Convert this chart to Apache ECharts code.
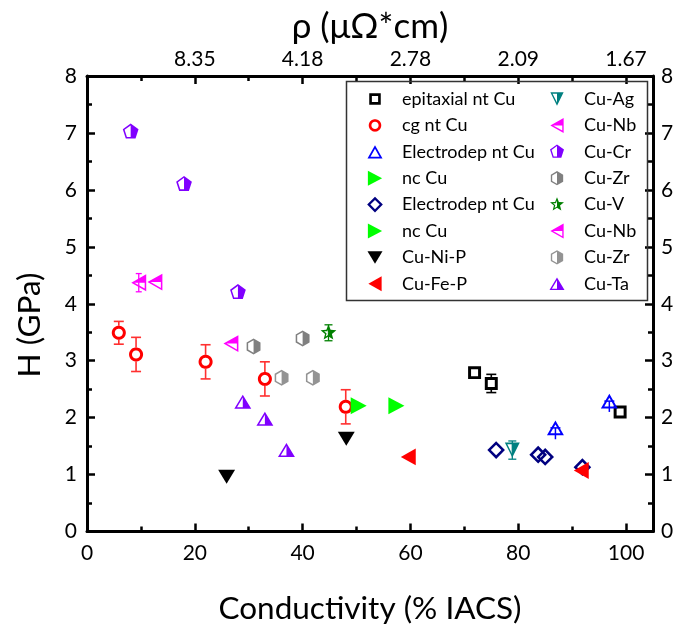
<!DOCTYPE html>
<html><head><meta charset="utf-8">
<script src="https://cdn.jsdelivr.net/npm/echarts@6.0.0/dist/echarts.min.js"></script>
<style>html,body{margin:0;padding:0;background:#fff}#chart{width:675px;height:627px}</style>
</head><body><div id="chart"></div>
<script>
// ---------------- data (conductivity %IACS, hardness GPa) ----------------
const epitaxialNtCu = [[71.9, 2.79], [75.0, 2.60], [98.9, 2.10]];
const epitaxialNtCuErrUp = [0, 0.16, 0];
const epitaxialNtCuErrDown = [0, 0.16, 0];
const cgNtCu = [[5.9, 3.49], [9.1, 3.11], [22.0, 2.98], [33.0, 2.68], [48.0, 2.19]];
const cgNtCuErrUp = [0.2, 0.3, 0.3, 0.3, 0.3];
const cgNtCuErrDown = [0.2, 0.3, 0.3, 0.3, 0.3];
const electrodepNtCuA = [[86.9, 1.82], [96.9, 2.29]];
const electrodepNtCuAErrUp = [0, 0];
const electrodepNtCuAErrDown = [0.2, 0.19];
const ncCuA = [[50.4, 2.21]];
const electrodepNtCuB = [[75.9, 1.43], [83.7, 1.35], [85.0, 1.31], [91.9, 1.13]];
const ncCuB = [[57.4, 2.21]];
const cuNiP = [[25.9, 0.96], [48.1, 1.63]];
const cuFeP = [[59.6, 1.31], [91.7, 1.07]];
const cuAg = [[78.9, 1.43]];
const cuAgErrUp = [0.16];
const cuAgErrDown = [0.16];
const cuNbA = [[9.6, 4.37], [12.6, 4.38]];
const cuNbAErrUp = [0.16, 0];
const cuNbAErrDown = [0.16, 0];
const cuCr = [[8.1, 7.02], [18.0, 6.10], [28.0, 4.20]];
const cuZrA = [[30.9, 3.25], [40.0, 3.39]];
const cuV = [[44.8, 3.49]];
const cuVErrUp = [0.14];
const cuVErrDown = [0.14];
const cuNbB = [[26.7, 3.30]];
const cuZrB = [[36.1, 2.70], [41.9, 2.70]];
const cuTa = [[28.9, 2.28], [33.0, 1.98], [37.0, 1.43]];

const xTickValues = [0, 20, 40, 60, 80, 100];
const rhoTickValues = [20, 40, 60, 80, 100];
const rhoTickLabels = ['8.35', '4.18', '2.78', '2.09', '1.67'];

// ---------------- marker shapes (frame -100..100) ----------------
function area(p) { let a = 0; for (let i = 0; i < p.length; i++) { const q = p[i], r = p[(i + 1) % p.length]; a += q[0] * r[1] - r[0] * q[1]; } return a / 2; }
function intersect(l1, l2) {
  const p = l1[0], d = l1[1], q = l2[0], e = l2[1];
  const den = d[0] * e[1] - d[1] * e[0];
  if (Math.abs(den) < 1e-9) return q;
  const u = ((q[0] - p[0]) * e[1] - (q[1] - p[1]) * e[0]) / den;
  return [p[0] + u * d[0], p[1] + u * d[1]];
}
function offsetPoly(p, t) {
  const n = p.length, s = area(p) > 0 ? 1 : -1, lines = [];
  for (let i = 0; i < n; i++) {
    const a = p[i], b = p[(i + 1) % n], dx = b[0] - a[0], dy = b[1] - a[1], L = Math.hypot(dx, dy);
    const nx = -dy / L * s, ny = dx / L * s;
    lines.push([[a[0] + nx * t, a[1] + ny * t], [dx, dy]]);
  }
  const out = [];
  for (let i = 0; i < n; i++) out.push(intersect(lines[(i - 1 + n) % n], lines[i]));
  return out;
}
function clip(poly, f) {
  const out = [];
  for (let i = 0; i < poly.length; i++) {
    const a = poly[i], b = poly[(i + 1) % poly.length], fa = f(a), fb = f(b);
    if (fa >= 0) out.push(a);
    if ((fa >= 0) !== (fb >= 0)) { const t = fa / (fa - fb); out.push([a[0] + t * (b[0] - a[0]), a[1] + t * (b[1] - a[1])]); }
  }
  return out;
}
function pathStr(polys) {
  let s = 'M-100 -100 M100 100';
  polys.forEach(p => { s += ' M' + p.map(v => v[0].toFixed(1) + ' ' + v[1].toFixed(1)).join(' L') + ' Z'; });
  return 'path://' + s;
}
const filled = p => pathStr([p]);
const ring = (p, t) => pathStr([p, offsetPoly(p, t).reverse()]);
const sides = { right: v => v[0], left: v => -v[0], top: v => -v[1] };
function halfRing(p, t, side) { const inner = offsetPoly(p, t); return pathStr([p, inner.slice().reverse(), clip(inner, sides[side])]); }
function regular(n, r, startDeg) { const a = []; for (let i = 0; i < n; i++) { const th = (startDeg + 360 * i / n) * Math.PI / 180; a.push([r * Math.cos(th), r * Math.sin(th)]); } return a; }
function starPts(ro, ri) { const a = []; for (let i = 0; i < 10; i++) { const r = i % 2 ? ri : ro, th = (-90 + 36 * i) * Math.PI / 180; a.push([r * Math.cos(th), r * Math.sin(th)]); } return a; }

const SYM = {
  square: ring([[-72, -72], [72, -72], [72, 72], [-72, 72]], 33),
  circle: ring(regular(48, 78, 0), 33),
  triUpOpen: ring([[0, -83], [94, 83], [-94, 83]], 22),
  triRight: filled([[-89, -94], [89, 0], [-89, 94]]),
  diamond: ring([[0, -98], [98, 0], [0, 98], [-98, 0]], 28),
  triDown: filled([[-94, -78], [94, -78], [0, 78]]),
  triLeft: filled([[83, -94], [83, 94], [-83, 0]]),
  triDownHalf: halfRing([[-83, -83], [83, -83], [0, 83]], 17, 'right'),
  triLeftHalf: halfRing([[83, -94], [83, 94], [-83, 0]], 17, 'top'),
  pentagon: halfRing(regular(5, 92, -90), 17, 'right'),
  hexagon: halfRing(regular(6, 89, -90), 17, 'right'),
  star: halfRing(starPts(92, 40), 15, 'right'),
  triUpHalf: halfRing([[0, -78], [94, 78], [-94, 78]], 17, 'right')
};

// ---------------- series ----------------
const scatterDefs = [
  ['epitaxial nt Cu', epitaxialNtCu, SYM.square, '#000000'],
  ['cg nt Cu', cgNtCu, SYM.circle, '#ff0000'],
  ['Electrodep nt Cu', electrodepNtCuA, SYM.triUpOpen, '#0000ff'],
  ['nc Cu', ncCuA, SYM.triRight, '#00ff00'],
  ['Electrodep nt Cu#2', electrodepNtCuB, SYM.diamond, '#000080'],
  ['nc Cu#2', ncCuB, SYM.triRight, '#00ff00'],
  ['Cu-Ni-P', cuNiP, SYM.triDown, '#000000'],
  ['Cu-Fe-P', cuFeP, SYM.triLeft, '#ff0000'],
  ['Cu-Ag', cuAg, SYM.triDownHalf, '#008080'],
  ['Cu-Nb', cuNbA, SYM.triLeftHalf, '#ff00ff'],
  ['Cu-Cr', cuCr, SYM.pentagon, '#8000ff'],
  ['Cu-Zr', cuZrA, SYM.hexagon, '#808080'],
  ['Cu-V', cuV, SYM.star, '#008000'],
  ['Cu-Nb#2', cuNbB, SYM.triLeftHalf, '#ff00ff'],
  ['Cu-Zr#2', cuZrB, SYM.hexagon, '#939393'],
  ['Cu-Ta', cuTa, SYM.triUpHalf, '#8000ff']
];

// error bars: [x, y, up, down]; caps drawn at each bar end (bottom cap optional)
function errSeries(pts, up, down, color, gap, lw, hw, bottomCap) {
  return {
    type: 'custom', name: '_err_' + color, silent: true, z: 2, clip: false,
    data: pts.map((p, i) => [p[0], p[1], up[i], down[i]]).filter(d => d[2] > 0 || d[3] > 0),
    encode: { x: 0, y: 1 },
    renderItem(params, api) {
      const x = api.value(0), y = api.value(1), eu = api.value(2), ed = api.value(3);
      const c = api.coord([x, y]), top = api.coord([x, y + eu]), bot = api.coord([x, y - ed]);
      const st = { stroke: color, lineWidth: lw };
      const kids = [];
      const ln = (x1, y1, x2, y2) => kids.push({ type: 'line', shape: { x1, y1, x2, y2 }, style: st });
      if (top[1] < c[1] - gap) ln(c[0], top[1], c[0], c[1] - gap);
      if (bot[1] > c[1] + gap) ln(c[0], Math.max(top[1], c[1] + gap), c[0], bot[1]);
      ln(c[0] - hw, top[1], c[0] + hw, top[1]);
      if (bottomCap) ln(c[0] - hw, bot[1], c[0] + hw, bot[1]);
      return { type: 'group', children: kids };
    }
  };
}

const series = [
  errSeries(cgNtCu, cgNtCuErrUp, cgNtCuErrDown, '#ff3030', 7, 1.6, 5, true),
  errSeries(epitaxialNtCu, epitaxialNtCuErrUp, epitaxialNtCuErrDown, '#000000', 6.5, 1.6, 5, true),
  errSeries(electrodepNtCuA, electrodepNtCuAErrUp, electrodepNtCuAErrDown, '#0000ff', 0, 1.5, 5, false),
  errSeries(cuAg, cuAgErrUp, cuAgErrDown, '#008080', 0, 1.3, 4, true),
  errSeries(cuNbA, cuNbAErrUp, cuNbAErrDown, '#ff00ff', 0, 1.3, 3, true),
  errSeries(cuV, cuVErrUp, cuVErrDown, '#008000', 0, 1.3, 4, true)
].concat(scatterDefs.map((d, i) => ({
  type: 'scatter', name: d[0], data: d[1], symbol: d[2], symbolSize: 18, symbolKeepAspect: true,
  itemStyle: { color: d[3], opacity: 1 }, z: 3 + i * 0.01, emphasis: { disabled: true }
})));

const FONT = 'Lato';
const names = scatterDefs.map(d => d[0]);
const legendBase = {
  orient: 'vertical', top: 90, itemWidth: 44, itemHeight: 16, itemGap: 8.4, padding: 0,
  selectedMode: false, formatter: n => n.split('#')[0],
  textStyle: { fontFamily: FONT, fontSize: 18, color: '#000', lineHeight: 16 }
};
const tickStyle = { color: '#000', width: 2.5 };
const lineStyle = { color: '#000', width: 3 };
const labelStyle = { fontFamily: FONT, fontSize: 21, color: '#000' };
const nameStyle = { fontFamily: FONT, fontSize: 31.5, color: '#000' };

const option = {
  animation: false,
  backgroundColor: '#fff',
  grid: { left: 87, right: 22, top: 76, bottom: 95.5, containLabel: false, outerBoundsMode: 'none' },
  legend: [
    Object.assign({}, legendBase, { left: 367, data: names.slice(0, 8) }),
    Object.assign({}, legendBase, { left: 549, data: names.slice(8) })
  ],
  graphic: [
    { type: 'rect', left: 344, top: 79, shape: { width: 301, height: 219 }, style: { fill: 'none', stroke: '#333', lineWidth: 1.5 }, z: 1 },
    { type: 'text', x: 30, y: 325, rotation: Math.PI / 2, z: 5,
      style: { text: 'H (GPa)', fontFamily: FONT, fontSize: 31.5, fill: '#000', align: 'center', verticalAlign: 'middle', textAlign: 'center', textVerticalAlign: 'middle' } }
  ],
  xAxis: [
    { type: 'value', position: 'bottom', min: 0, max: 105, interval: 20,
      axisLine: { onZero: false, lineStyle }, axisTick: { inside: true, length: 8, lineStyle: tickStyle },
      axisLabel: Object.assign({ margin: 11, showMaxLabel: false, formatter: v => xTickValues.includes(v) ? String(v) : '' }, labelStyle),
      splitLine: { show: false }, name: 'Conductivity (% IACS)', nameLocation: 'middle', nameGap: 61, nameTextStyle: nameStyle },
    { type: 'value', position: 'bottom', min: 0, max: 105, interval: 10,
      axisLine: { show: false, onZero: false }, axisTick: { inside: true, length: 5, lineStyle: tickStyle },
      axisLabel: { show: false }, splitLine: { show: false } },
    { type: 'value', position: 'top', min: 0, max: 105, interval: 20,
      axisLine: { onZero: false, lineStyle }, axisTick: { inside: true, length: 8, lineStyle: tickStyle },
      axisLabel: Object.assign({ margin: 6, showMaxLabel: false, showMinLabel: false, formatter: v => { const i = rhoTickValues.indexOf(v); return i >= 0 ? rhoTickLabels[i] : ''; } }, labelStyle),
      splitLine: { show: false }, name: 'ρ (μΩ*cm)', nameLocation: 'middle', nameGap: 28, nameTextStyle: Object.assign({}, nameStyle, { fontSize: 35 }) },
    { type: 'value', position: 'top', min: 0, max: 105, interval: 10,
      axisLine: { show: false, onZero: false }, axisTick: { inside: true, length: 5, lineStyle: tickStyle },
      axisLabel: { show: false }, splitLine: { show: false } }
  ],
  yAxis: [
    { type: 'value', position: 'left', min: 0, max: 8, interval: 1,
      axisLine: { onZero: false, lineStyle }, axisTick: { inside: true, length: 8, lineStyle: tickStyle },
      minorTick: { show: true, splitNumber: 2, length: 5, lineStyle: tickStyle },
      axisLabel: Object.assign({ margin: 10 }, labelStyle), splitLine: { show: false }, minorSplitLine: { show: false } },
    { type: 'value', position: 'right', min: 0, max: 8, interval: 1,
      axisLine: { onZero: false, lineStyle }, axisTick: { inside: true, length: 8, lineStyle: tickStyle },
      minorTick: { show: true, splitNumber: 2, length: 5, lineStyle: tickStyle },
      axisLabel: Object.assign({ margin: 8 }, labelStyle), splitLine: { show: false }, minorSplitLine: { show: false } }
  ],
  series
};
const chart = echarts.init(document.getElementById('chart'), null, { renderer: 'canvas' });
chart.setOption(option);
</script>
</body></html>
